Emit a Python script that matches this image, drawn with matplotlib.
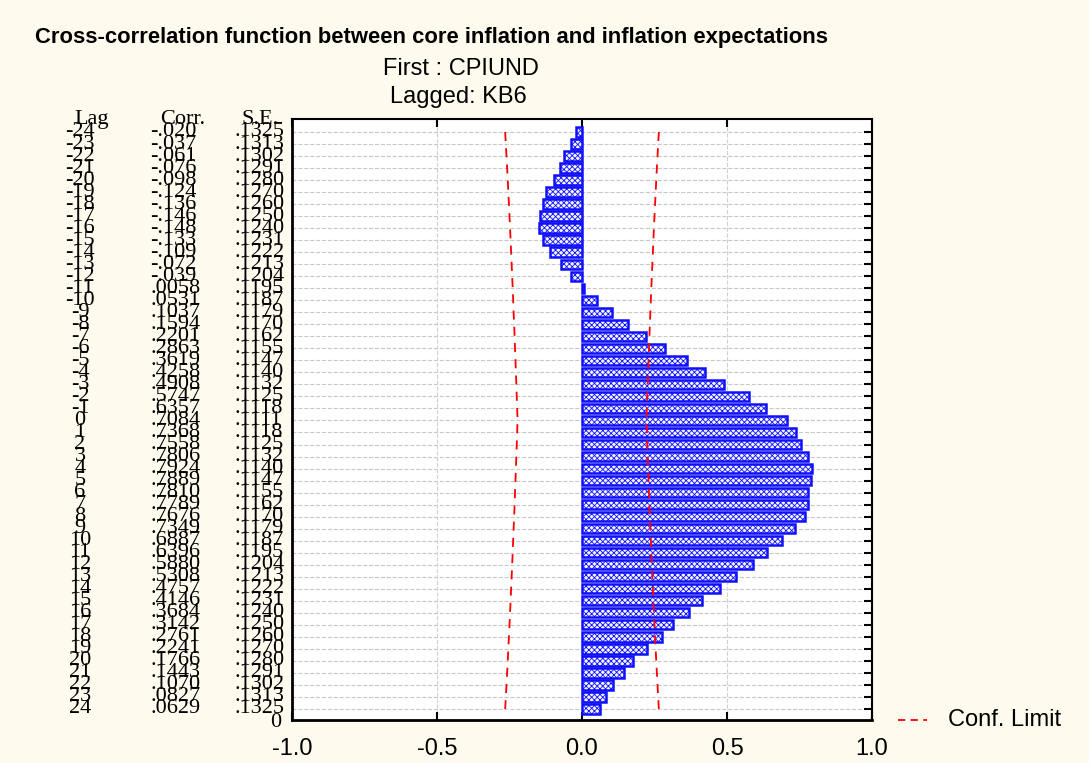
import matplotlib
matplotlib.use("Agg")
import matplotlib.pyplot as plt
import numpy as np

# cross-correlation table, lags -24..24
lags = list(range(-24, 25))
corr = [-.020, -.037, -.061, -.076, -.098, -.124, -.136, -.146, -.148, -.133,
        -.109, -.072, -.039, .0058, .0531, .1037, .1594, .2201, .2863, .3619,
        .4258, .4908, .5747, .6357, .7084, .7368, .7558, .7806, .7924, .7889,
        .7810, .7789, .7676, .7349, .6887, .6396, .5880, .5308, .4757, .4146,
        .3684, .3142, .2761, .2241, .1766, .1443, .1070, .0827, .0629]
se_half = [.1325, .1313, .1302, .1291, .1280, .1270, .1260, .1250, .1240, .1231,
           .1222, .1213, .1204, .1195, .1187, .1179, .1170, .1162, .1155, .1147,
           .1140, .1132, .1125, .1118]
se = se_half + [.1111] + se_half[::-1]

corr_txt = ["-.020", "-.037", "-.061", "-.076", "-.098", "-.124", "-.136", "-.146",
            "-.148", "-.133", "-.109", "-.072", "-.039", ".0058", ".0531", ".1037",
            ".1594", ".2201", ".2863", ".3619", ".4258", ".4908", ".5747", ".6357",
            ".7084", ".7368", ".7558", ".7806", ".7924", ".7889", ".7810", ".7789",
            ".7676", ".7349", ".6887", ".6396", ".5880", ".5308", ".4757", ".4146",
            ".3684", ".3142", ".2761", ".2241", ".1766", ".1443", ".1070", ".0827",
            ".0629"]
xticks = [-1.0, -0.5, 0.0, 0.5, 1.0]

BG = "#fffaee"
W, H = 1089, 763

plt.rcParams["hatch.linewidth"] = 0.6

fig = plt.figure(figsize=(W / 100, H / 100), dpi=100, facecolor=BG)
ax = fig.add_axes([292 / W, 1 - 720 / H, 580 / W, 601 / H])
ax.set_facecolor("white")

ax.barh(lags, corr, height=0.78, color="#f2f3ff", edgecolor="#1010ff",
        linewidth=1.8, hatch="xxxxxx", zorder=3)
conf = 2 * np.array(se)
ax.plot(conf, lags, color="red", ls=(0, (5, 4)), lw=1.3, zorder=4)
ax.plot(-conf, lags, color="red", ls=(0, (5, 4)), lw=1.3, zorder=4)

for y in lags:
    ax.axhline(y, color="#c8c8c8", ls="--", lw=0.8, zorder=1)
for x in (-0.5, 0.5):
    ax.axvline(x, color="#d0d0d0", ls="--", lw=0.8, zorder=1)

ax.set_xlim(-1.0, 1.0)
ax.set_ylim(24.92, -25.08)
ax.set_xticks(xticks)
ax.set_xticklabels([f"{v:.1f}" for v in xticks], fontsize=17,
                   family="Liberation Sans")
ax.tick_params(axis="x", direction="in", top=True, length=6, width=1.5, pad=13)
ax.set_yticks(lags)
ax.tick_params(axis="y", direction="in", left=False, right=True,
               labelleft=False, length=6, width=1.5)
for side, lw in (("left", 2), ("bottom", 2), ("right", 1.5), ("top", 1.5)):
    ax.spines[side].set_linewidth(lw)

# table text on the left
tr = ax.get_yaxis_transform()
def fx(px):
    return (px - 292) / 580

tkw = dict(transform=tr, family="Liberation Serif", fontsize=16,
           va="center", clip_on=False)
ax.text(fx(92), -25.0, "Lag", ha="center", **tkw)
ax.text(fx(183), -25.0, "Corr.", ha="center", **tkw)
ax.text(fx(260), -25.0, "S.E.", ha="center", **tkw)
for lag, c, s in zip(lags, corr_txt, se):
    ax.text(fx(80), lag, str(lag), ha="center", **tkw)
    ax.text(fx(150), lag, c, ha="left", **tkw)
    ax.text(fx(235), lag, f"{s:.4f}"[1:], ha="left", **tkw)
ax.text(fx(281), 25.1, "0", ha="right", **tkw)

# titles
fig.text(35 / W, 1 - 38 / H, "Cross-correlation function between core inflation and inflation expectations",
         fontsize=15.8, fontweight="bold", family="Liberation Sans", va="center")
fig.text(461 / W, 1 - 69 / H, "First : CPIUND", fontsize=17,
         family="Liberation Sans", ha="center", va="center")
fig.text(458 / W, 1 - 97 / H, "Lagged: KB6", fontsize=17,
         family="Liberation Sans", ha="center", va="center")

# legend
fig.lines.append(plt.Line2D([898 / W, 927 / W], [1 - 720 / H] * 2,
                            transform=fig.transFigure, color="red",
                            ls=(0, (4, 3)), lw=1.3))
fig.text(948 / W, 1 - 720 / H, "Conf. Limit", fontsize=17,
         family="Liberation Sans", va="center")

fig.savefig("out.png", dpi=100, facecolor=BG)
